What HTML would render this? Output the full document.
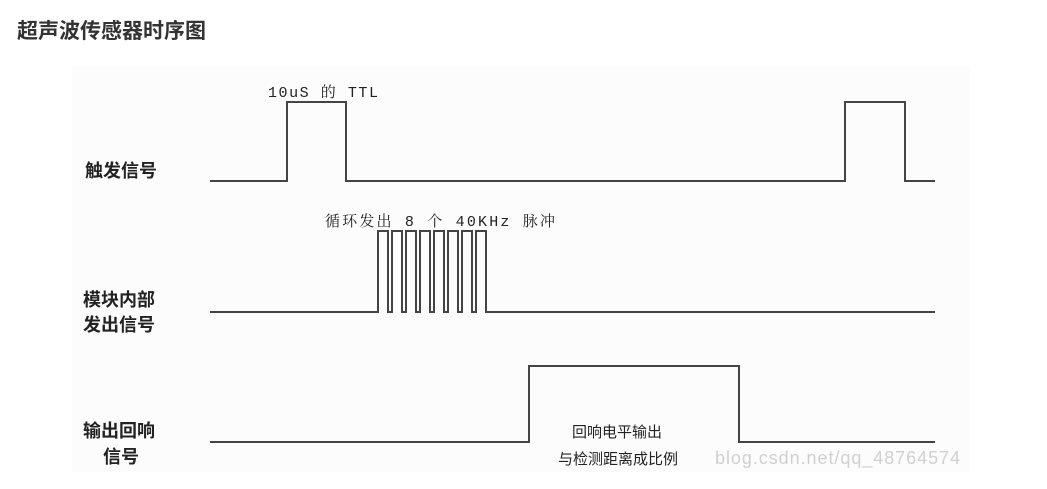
<!DOCTYPE html>
<html><head><meta charset="utf-8"><style>
body{margin:0;width:1047px;height:484px;background:#fff;overflow:hidden;font-family:"Liberation Sans","Noto Sans CJK SC",sans-serif}
</style></head><body>
<svg width="1047" height="484" xmlns="http://www.w3.org/2000/svg">
<rect x="72" y="66" width="898" height="406" fill="#fcfcfc"/>
<text x="17" y="38" font-family="Liberation Sans,Noto Sans CJK SC,sans-serif" font-weight="bold" font-size="21" fill="#333">超声波传感器时序图</text>
<g font-family="Noto Sans CJK SC,sans-serif" font-weight="bold" font-size="18" fill="#222">
<text x="85" y="177">触发信号</text>
<text x="83" y="306">模块内部</text>
<text x="83" y="331">发出信号</text>
<text x="83" y="437">输出回响</text>
<text x="103" y="463">信号</text>
</g>
<g font-family="Liberation Mono,Noto Serif CJK SC,monospace" font-size="15" fill="#222">
<text x="268" y="97" textLength="110">10uS 的 TTL</text>
<text x="325" y="226" textLength="230">循环发出 8 个 40KHz 脉冲</text>
</g>
<g font-family="Noto Sans CJK SC,sans-serif" font-size="15" fill="#222">
<text x="572" y="437">回响电平输出</text>
<text x="558" y="464">与检测距离成比例</text>
</g>
<text x="715" y="464" font-family="Liberation Sans,sans-serif" font-size="18" fill="#d0d0d0" textLength="245">blog.csdn.net/qq_48764574</text>
<g fill="none" stroke="#444" stroke-width="2">
<polyline points="210,181 287,181 287,102 346,102 346,181 845,181 845,102 905,102 905,181 935,181"/>
<polyline points="210,312 378,312 378,231 388,231 388,312 392,312 392,231 402,231 402,312 406,312 406,231 416,231 416,312 420,312 420,231 430,231 430,312 434,312 434,231 444,231 444,312 448,312 448,231 458,231 458,312 462,312 462,231 472,231 472,312 476,312 476,231 486,231 486,312 490,312 935,312"/>
<polyline points="210,442 529,442 529,366 739,366 739,442 935,442"/>
</g>
</svg>
</body></html>
